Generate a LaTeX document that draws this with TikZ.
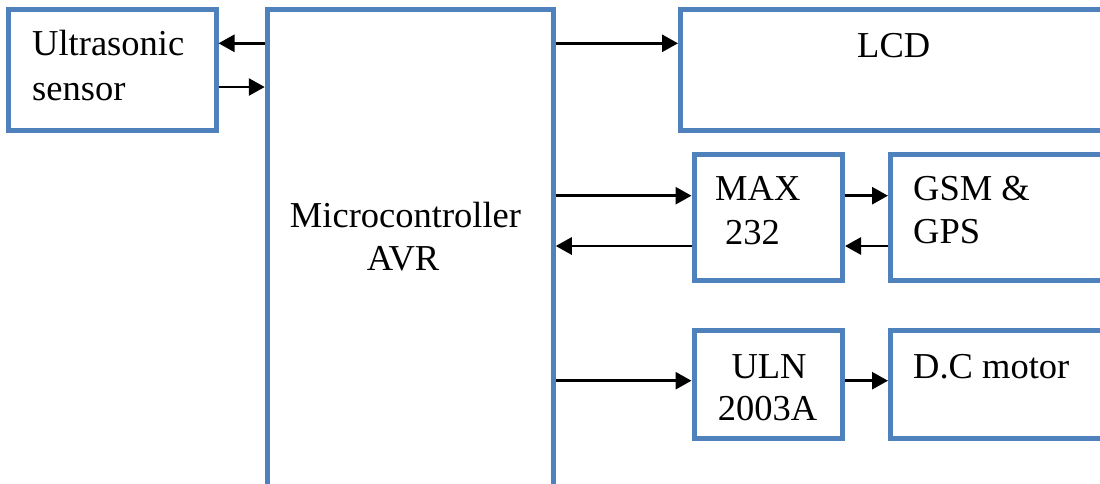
\documentclass[tikz,border=0pt]{standalone}
\usepackage{fontspec}
\setmainfont{Liberation Serif}
\usetikzlibrary{arrows.meta,calc}
\definecolor{boxblue}{HTML}{4F81BD}
\tikzset{
  blockbox/.style={draw=boxblue, line width=5pt, fill=white, rectangle, inner sep=0pt},
  lbl/.style={inner sep=0pt, font=\fontsize{36.5}{44}\selectfont},
  arr/.style={draw=black, line width=2.8pt, -{Triangle[length=16pt,width=17pt]}}
}
\begin{document}
\begin{tikzpicture}[x=1pt,y=-1pt]
\useasboundingbox (0,0) rectangle (1100,483);
\clip (0,0) rectangle (1100,483);
\fill[white] (0,0) rectangle (1100,483);

% blocks (centre-line coordinates)
\node[blockbox, minimum width=208pt, minimum height=121pt] (us)   at (112,70) {};
\node[blockbox, minimum width=286pt, minimum height=500pt] (mcu)  at (410.25,259.5) {};
\node[blockbox, minimum width=460pt, minimum height=121pt] (lcd)  at (910.5,70) {};
\node[blockbox, minimum width=148.5pt, minimum height=126pt] (max) at (768.25,217.25) {};
\node[blockbox, minimum width=240pt, minimum height=126pt] (gsm)  at (1010.5,217.25) {};
\node[blockbox, minimum width=148.5pt, minimum height=108pt] (uln) at (768.25,384.5) {};
\node[blockbox, minimum width=240pt, minimum height=108pt] (dcm)  at (1010.5,384.5) {};

% labels
\node[lbl, anchor=base west] (t-us1) at (32,55) {Ultrasonic};
\node[lbl, anchor=base west] (t-us2) at (32,100) {sensor};
\node[lbl, anchor=base] (t-mc1) at (405.5,227.3) {Microcontroller};
\node[lbl, anchor=base] (t-mc2) at (403,270.7) {AVR};
\node[lbl, anchor=base west] (t-lcd) at (857,57) {LCD};
\node[lbl, anchor=base west] (t-max1) at (715,200) {MAX};
\node[lbl, anchor=base west] (t-max2) at (725,244) {232};
\node[lbl, anchor=base west] (t-gsm1) at (913,200) {GSM \&};
\node[lbl, anchor=base west] (t-gsm2) at (913,243) {GPS};
\node[lbl, anchor=base] (t-uln1) at (769,378) {ULN};
\node[lbl, anchor=base] (t-uln2) at (767.5,420) {2003A};
\node[lbl, anchor=base west] (t-dcm) at (913,378) {D.C motor};

% signal paths
\draw[arr] (mcu.west |- 0,43.3) -- (us.east |- 0,43.3);
\draw[arr] (us.east |- 0,87) -- (mcu.west |- 0,87);
\draw[arr] (mcu.east |- 0,43.3) -- (lcd.west |- 0,43.3);
\draw[arr] (mcu.east |- 0,195.7) -- (max.west |- 0,195.7);
\draw[arr] (max.west |- 0,246) -- (mcu.east |- 0,246);
\draw[arr] (max.east |- 0,195.7) -- (gsm.west |- 0,195.7);
\draw[arr] (gsm.west |- 0,246) -- (max.east |- 0,246);
\draw[arr] (mcu.east |- 0,380.7) -- (uln.west |- 0,380.7);
\draw[arr] (uln.east |- 0,380.7) -- (dcm.west |- 0,380.7);
\end{tikzpicture}
\end{document}
